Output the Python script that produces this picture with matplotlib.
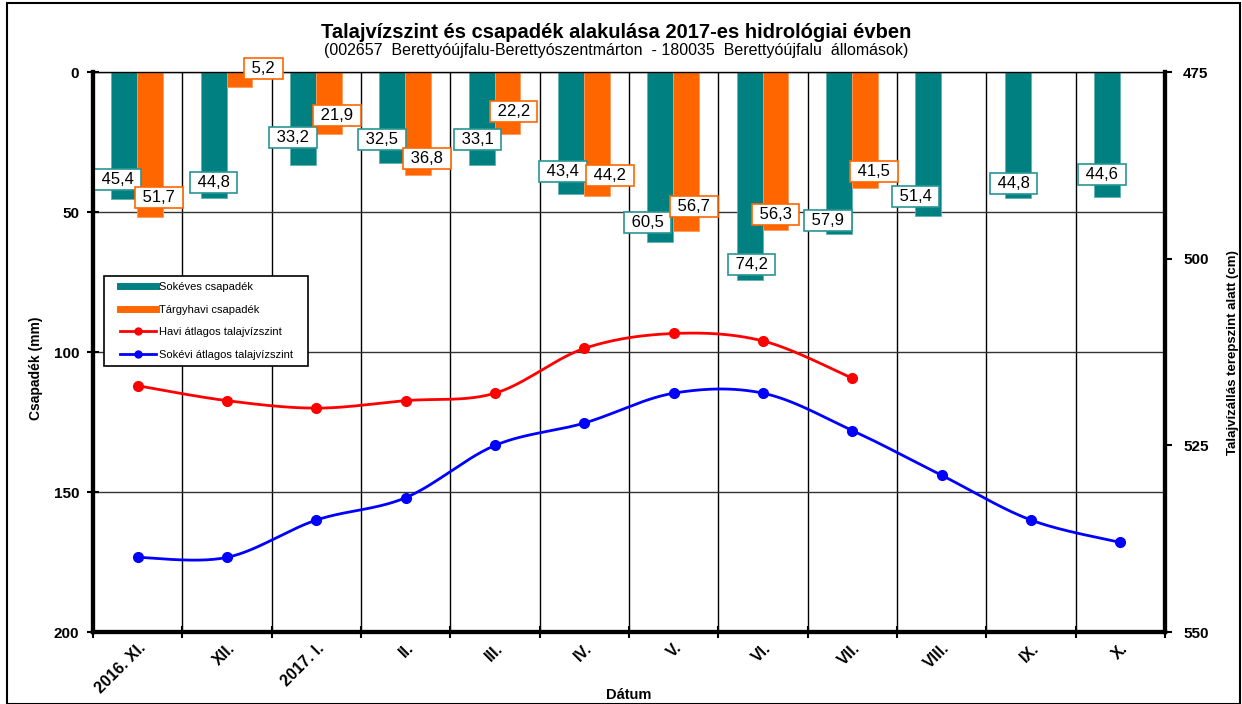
import matplotlib
matplotlib.use("Agg")
import matplotlib.pyplot as plt
import numpy as np
from matplotlib.lines import Line2D
from matplotlib.patches import Rectangle

plt.rcParams['font.family'] = ['Liberation Sans', 'DejaVu Sans']

# ---------------- data ----------------
months = ["2016. XI.", "XII.", "2017. I.", "II.", "III.", "IV.", "V.", "VI.",
          "VII.", "VIII.", "IX.", "X."]
sokeves_csap = [45.4, 44.8, 33.2, 32.5, 33.1, 43.4, 60.5, 74.2, 57.9, 51.4, 44.8, 44.6]
targyhavi_csap = [51.7, 5.2, 21.9, 36.8, 22.2, 44.2, 56.7, 56.3, 41.5]
havi_talajviz = [517, 519, 520, 519, 518, 512, 510, 511, 516]
sokevi_talajviz = [540, 540, 535, 532, 525, 522, 518, 518, 523, 529, 535, 538]

title = "Talajvízszint és csapadék alakulása 2017-es hidrológiai évben"
subtitle = "(002657  Berettyóújfalu-Berettyószentmárton  - 180035  Berettyóújfalu  állomások)"

# label offsets (pixels: dx right, dy up) relative to bar end
teal_off = [(-7, 20), (0, 15), (-10, 28), (-10, 24), (-4, 25), (-8, 22), (-13, 19),
            (2, 15), (-11, 14), (-13, 20), (-4, 14), (-5, 23)]
orange_off = [(9, 19), (24, 18), (8, 18), (9, 17), (6, 23), (13, 20), (8, 24),
              (0, 15), (9, 17)]

TEAL = "#008080"
ORANGE = "#FF6600"


def smooth(xs, ys, n=30):
    xs = np.asarray(xs, float)
    ys = np.asarray(ys, float)
    P = np.column_stack([xs, ys])
    out = [P[0]]
    for i in range(len(P) - 1):
        p0 = P[i - 1] if i > 0 else P[i]
        p1 = P[i]
        p2 = P[i + 1]
        p3 = P[i + 2] if i + 2 < len(P) else P[i + 1]
        c1 = p1 + (p2 - p0) / 6.0
        c2 = p2 - (p3 - p1) / 6.0
        t = np.linspace(0, 1, n)[1:, None]
        seg = ((1 - t) ** 3) * p1 + 3 * ((1 - t) ** 2) * t * c1 + 3 * (1 - t) * t ** 2 * c2 + t ** 3 * p2
        out.extend(seg)
    out = np.array(out)
    return out[:, 0], out[:, 1]


def fmt(v):
    return " " + f"{v:.1f}".replace(".", ",") + " "


W, H = 1242, 704
fig = plt.figure(figsize=(W / 100, H / 100), dpi=100)
ax = fig.add_axes([93 / W, 1 - 632 / H, (1165 - 93) / W, (632 - 72.3) / H])

x = np.arange(len(months))
bw = 0.29
ax.bar(x - 0.15, sokeves_csap, width=bw, color=TEAL, edgecolor="#5fb3b3", linewidth=0.6, zorder=2)
xo = np.arange(len(targyhavi_csap))
ax.bar(xo + 0.14, targyhavi_csap, width=bw, color=ORANGE, edgecolor="#ff9a5a", linewidth=0.6, zorder=2)

ax.set_xlim(-0.5, len(months) - 0.5)
ax.set_ylim(200, 0)
ax.set_yticks([0, 50, 100, 150, 200])
ax.set_yticklabels(["0", "50", "100", "150", "200"], fontweight="bold", fontsize=11)
ax.set_xticks(x)
ax.set_xticklabels(months, rotation=45, ha="right", rotation_mode="anchor",
                   fontweight="bold", fontsize=11.5)
ax.tick_params(axis="x", which="major", length=0, pad=6)
ax.set_xticks(np.arange(-0.5, len(months) - 0.4, 1), minor=True)
ax.tick_params(axis="x", which="minor", direction="inout", length=8, width=1.5)
ax.tick_params(axis="y", direction="inout", length=8, width=1.5, pad=6)
ax.grid(True, which="minor", axis="x", color="black", linewidth=1)
ax.grid(True, which="major", axis="y", color="#333333", linewidth=1)
ax.set_axisbelow(True)
for s in ["left", "bottom", "right"]:
    ax.spines[s].set_linewidth(3)
ax.spines["top"].set_linewidth(1)

ax.set_ylabel("Csapadék (mm)", fontweight="bold", fontsize=10)
ax.yaxis.set_label_coords(-0.047, 0.472)
ax.set_xlabel("Dátum", fontweight="bold", fontsize=10.5, labelpad=-6)

# bar labels
for i, v in enumerate(sokeves_csap):
    dx, dy = teal_off[i]
    ax.annotate(fmt(v), xy=(i - 0.15, v), xytext=(dx, dy),
                textcoords="offset pixels", ha="center", va="center", fontsize=12,
                bbox=dict(boxstyle="square,pad=0.18", fc="white", ec="#2a9595", lw=1.2),
                zorder=5)
for i, v in enumerate(targyhavi_csap):
    dx, dy = orange_off[i]
    ax.annotate(fmt(v), xy=(i + 0.14, v), xytext=(dx, dy),
                textcoords="offset pixels", ha="center", va="center", fontsize=12,
                bbox=dict(boxstyle="square,pad=0.18", fc="white", ec=ORANGE, lw=1.2),
                zorder=5)

# right axis lines
ax2 = ax.twinx()
ax2.set_ylim(550, 475)
ax2.set_yticks([475, 500, 525, 550])
ax2.set_yticklabels(["475", "500", "525", "550"], fontweight="bold", fontsize=11)
ax2.tick_params(axis="y", direction="out", length=5, width=1.5, pad=8)
for s in ["left", "bottom", "right"]:
    ax2.spines[s].set_linewidth(3)
ax2.spines["top"].set_visible(False)

xr = np.arange(len(havi_talajviz))
sx, sy = smooth(xr, havi_talajviz)
ax2.plot(sx, sy, color="#FF0000", lw=2, zorder=3)
ax2.plot(xr, havi_talajviz, "o", color="#FF0000", ms=7, zorder=4)
xb = np.arange(len(sokevi_talajviz))
sx, sy = smooth(xb, sokevi_talajviz)
ax2.plot(sx, sy, color="#0000FF", lw=2, zorder=3)
ax2.plot(xb, sokevi_talajviz, "o", color="#0000FF", ms=7, zorder=4)
ax2.set_ylabel("Talajvízállás terepszint alatt (cm)", fontweight="bold", fontsize=9.5, labelpad=13)

handles = [
    Line2D([], [], color=TEAL, lw=5),
    Line2D([], [], color=ORANGE, lw=5),
    Line2D([], [], color="#FF0000", lw=2, marker="o", ms=5),
    Line2D([], [], color="#0000FF", lw=2, marker="o", ms=5),
]
labels = ["Sokéves csapadék", "Tárgyhavi csapadék", "Havi átlagos talajvízszint",
          "Sokévi átlagos talajvízszint"]
leg = ax2.legend(handles, labels, loc="upper left",
                 bbox_to_anchor=((120 - 93) / 1072, 1 - (282 - 72.3) / 559.7),
                 fontsize=8, frameon=False, handlelength=3.25, labelspacing=1.14,
                 borderpad=0, handletextpad=0.3, borderaxespad=0)
ax2.add_patch(Rectangle(((104 - 93) / 1072, 1 - (366 - 72.3) / 559.7), (308 - 104) / 1072,
                        (366 - 276) / 559.7, transform=ax2.transAxes, fc="white",
                        ec="black", lw=1.2, zorder=6))
leg.set_zorder(7)

fig.text(616 / W, 1 - 32 / H, title, ha="center", va="center", fontweight="bold", fontsize=14.5)
fig.text(616 / W, 1 - 51 / H, subtitle, ha="center", va="center", fontsize=11.5)

fig.patches.append(Rectangle((7 / W, 0), (1240 - 7) / W, 1 - 3 / H, transform=fig.transFigure,
                             fill=False, ec="black", lw=1.5))

fig.savefig("out.png", dpi=100)
